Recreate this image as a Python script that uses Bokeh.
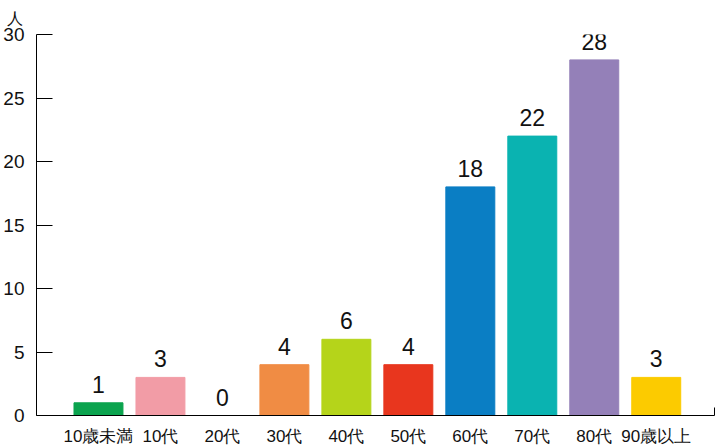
from bokeh.plotting import figure
from bokeh.models import ColumnDataSource, FixedTicker, Range1d
from bokeh.core.properties import value
from bokeh.embed import file_html
from bokeh.resources import INLINE

categories = ["10歳未満", "10代", "20代", "30代", "40代", "50代", "60代", "70代", "80代", "90歳以上"]
counts = [1, 3, 0, 4, 6, 4, 18, 22, 28, 3]
colors = ["#0ba34e", "#f29ca6", "#ffffff", "#f08c44", "#b5d41a", "#e8361e",
          "#0a7ec4", "#0ab3b1", "#9480b8", "#fccb00"]
y_ticks = [0, 5, 10, 15, 20, 25, 30]
unit_label = "人"

xs = list(range(1, len(categories) + 1))
x_end = 10.94

src = ColumnDataSource(dict(x=xs, top=counts, color=colors,
                            label=[str(c) for c in counts]))

p = figure(width=715, height=448, output_backend="svg", toolbar_location=None,
           x_range=Range1d(0, x_end), y_range=Range1d(0, 30),
           title=unit_label,
           min_border_left=36, min_border_right=1, min_border_top=34, min_border_bottom=33)
p.outline_line_color = None
p.grid.grid_line_color = None
p.background_fill_color = "white"
p.border_fill_color = "white"

p.title.align = "left"
p.title.offset = -30
p.title.text_font = "Liberation Sans"
p.title.text_font_size = "16px"
p.title.text_font_style = "normal"
p.title.text_color = "#111111"
p.title.standoff = 15

p.vbar(x="x", top="top", width=0.79, color="color", source=src)
p.text(x="x", y="top", text="label", source=src, text_align="center",
       text_baseline="bottom", y_offset=-10, text_font_size="23px",
       text_font=value("Liberation Sans"), text_color="#111111")

# y axis
p.yaxis.ticker = FixedTicker(ticks=y_ticks)
p.yaxis.major_tick_in = 16
p.yaxis.major_tick_out = 0
p.yaxis.minor_tick_line_color = None
p.yaxis.axis_line_color = "black"
p.yaxis.major_tick_line_color = "black"
p.yaxis.major_label_standoff = 12
p.yaxis.major_label_text_font = "Liberation Sans"
p.yaxis.major_label_text_font_size = "19px"
p.yaxis.major_label_text_color = "#111111"

# x axis
p.xaxis.ticker = FixedTicker(ticks=xs, minor_ticks=[x_end])
p.xaxis.major_label_overrides = {x: c for x, c in zip(xs, categories)}
p.xaxis.major_tick_line_color = None
p.xaxis.minor_tick_in = 8
p.xaxis.minor_tick_out = 0
p.xaxis.minor_tick_line_color = "black"
p.xaxis.axis_line_color = "black"
p.xaxis.major_label_standoff = 5
p.xaxis.major_label_text_font = "Liberation Sans"
p.xaxis.major_label_text_font_size = "17px"
p.xaxis.major_label_text_color = "#111111"

open("out.html", "w").write(file_html(p, INLINE))
